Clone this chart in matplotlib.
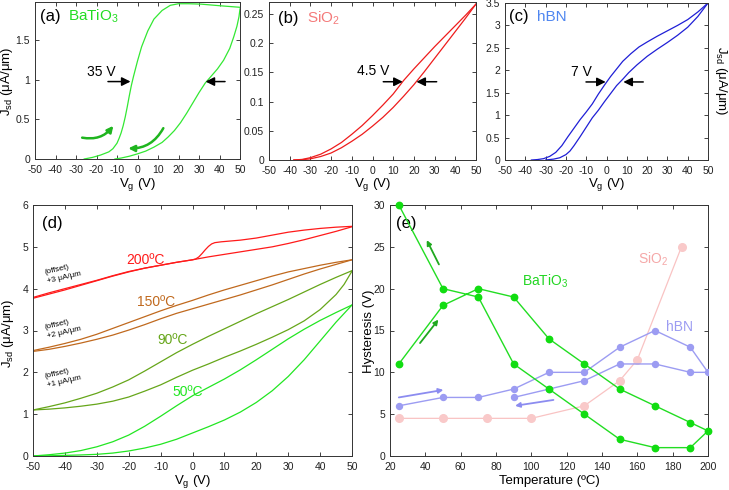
import matplotlib
matplotlib.use('Agg')
import matplotlib.pyplot as plt
import numpy as np

plt.rcParams['font.family'] = ['Liberation Sans', 'DejaVu Sans']
plt.rcParams['mathtext.fontset'] = 'custom'
plt.rcParams['mathtext.rm'] = 'Liberation Sans'
plt.rcParams['mathtext.it'] = 'Liberation Sans:italic'
plt.rcParams['mathtext.default'] = 'regular'
plt.rcParams['axes.unicode_minus'] = False

# ---------------- data ----------------
# (a) BaTiO3 transfer curve
a_up_v = [-26, -22, -18, -14, -12, -10, -9, -8, -7, -6, -5, -4, -3, -2, -1, 0, 2, 5, 8, 12, 16, 20, 25, 31, 40, 50]
a_up_j = [0.0, 0.02, 0.05, 0.09, 0.13, 0.20, 0.26, 0.33, 0.42, 0.53, 0.66, 0.80, 0.93, 1.04, 1.14, 1.24, 1.42, 1.62, 1.77, 1.88, 1.945, 1.965, 1.965, 1.96, 1.94, 1.92]
a_dn_v = [50, 49.5, 48.5, 47, 45, 42, 39, 36, 33, 30, 27, 24, 21, 18, 15, 12, 8, 4, 0, -4, -8, -11]
a_dn_j = [1.90, 1.80, 1.68, 1.55, 1.40, 1.25, 1.14, 1.05, 0.96, 0.84, 0.71, 0.58, 0.46, 0.36, 0.28, 0.21, 0.15, 0.10, 0.065, 0.035, 0.012, 0.0]

# (b) SiO2
b_v = [-38, -34, -30, -25, -20, -15, -10, -5, 0, 5, 10, 15, 20, 25, 30, 35, 40, 45, 50]
b_up_j = [0.0, 0.001, 0.004, 0.010, 0.019, 0.030, 0.044, 0.059, 0.076, 0.094, 0.113, 0.136, 0.156, 0.175, 0.194, 0.212, 0.230, 0.248, 0.267]
b_dn_j = [0.0, 0.0005, 0.002, 0.006, 0.012, 0.021, 0.032, 0.044, 0.058, 0.073, 0.090, 0.109, 0.129, 0.151, 0.174, 0.197, 0.220, 0.243, 0.267]

# (c) hBN
c_up_v = [-37, -34, -31, -28, -25, -22, -19, -16, -13, -10, -7, -4, -1, 2, 5, 8, 12, 16, 20, 25, 30, 35, 40, 45, 50]
c_up_j = [0.0, 0.01, 0.03, 0.08, 0.17, 0.32, 0.52, 0.71, 0.90, 1.07, 1.25, 1.47, 1.67, 1.86, 2.03, 2.20, 2.37, 2.52, 2.63, 2.76, 2.88, 3.00, 3.13, 3.30, 3.5]
c_dn_v = [-30, -26, -23, -20, -18, -16, -13, -10, -7, -4, -1, 2, 5, 8, 11, 15, 20, 25, 30, 35, 40, 45, 50]
c_dn_j = [0.0, 0.02, 0.05, 0.12, 0.20, 0.32, 0.52, 0.73, 0.94, 1.11, 1.30, 1.48, 1.66, 1.80, 1.95, 2.12, 2.31, 2.47, 2.62, 2.78, 2.96, 3.20, 3.5]

# (d) BaTiO3 at several temperatures (offset curves)
d_v = [-50, -45, -40, -35, -30, -25, -20, -15, -10, -5, 0, 5, 10, 15, 20, 25, 30, 35, 40, 45, 50]
d50_a = [0.0, 0.03, 0.07, 0.13, 0.22, 0.34, 0.50, 0.71, 0.95, 1.20, 1.44, 1.64, 1.84, 2.06, 2.30, 2.55, 2.80, 3.03, 3.24, 3.43, 3.61]
d50_b = [0.0, 0.005, 0.015, 0.025, 0.04, 0.07, 0.12, 0.19, 0.28, 0.40, 0.55, 0.70, 0.86, 1.05, 1.28, 1.56, 1.90, 2.30, 2.75, 3.20, 3.61]
d90_a = [1.10, 1.18, 1.27, 1.38, 1.50, 1.65, 1.82, 2.03, 2.25, 2.47, 2.67, 2.86, 3.04, 3.22, 3.40, 3.57, 3.74, 3.92, 4.10, 4.27, 4.43]
d90_b_v = [-50, -45, -40, -35, -30, -25, -20, -15, -10, -5, 0, 5, 10, 15, 20, 25, 30, 35, 40, 45, 47.5, 50]
d90_b = [1.10, 1.12, 1.15, 1.19, 1.24, 1.31, 1.41, 1.55, 1.70, 1.88, 2.05, 2.20, 2.36, 2.51, 2.67, 2.84, 3.02, 3.23, 3.50, 3.86, 4.10, 4.42]
d150_a = [2.52, 2.60, 2.69, 2.79, 2.91, 3.05, 3.19, 3.33, 3.47, 3.60, 3.72, 3.85, 3.97, 4.08, 4.19, 4.30, 4.40, 4.48, 4.56, 4.63, 4.69]
d150_b = [2.50, 2.55, 2.62, 2.70, 2.79, 2.89, 3.01, 3.14, 3.28, 3.41, 3.52, 3.63, 3.74, 3.85, 3.97, 4.09, 4.22, 4.35, 4.47, 4.58, 4.69]
d200_a = [3.77, 3.87, 3.97, 4.08, 4.19, 4.30, 4.40, 4.49, 4.56, 4.63, 4.69, 4.76, 4.82, 4.88, 4.94, 5.00, 5.08, 5.17, 5.27, 5.37, 5.48]
d200_b_v = [-50, -45, -40, -35, -30, -25, -20, -15, -10, -5, 0, 1, 2, 3, 4, 5, 6, 7, 9, 12, 15, 20, 25, 30, 35, 40, 45, 50]
d200_b = [3.79, 3.90, 4.00, 4.10, 4.20, 4.31, 4.41, 4.49, 4.56, 4.63, 4.69, 4.71, 4.76, 4.84, 4.93, 5.01, 5.07, 5.10, 5.12, 5.14, 5.16, 5.21, 5.28, 5.35, 5.40, 5.44, 5.47, 5.49]

# (e) hysteresis vs temperature
e_bto_T = [25, 50, 70, 90, 110, 130, 150, 170, 190, 200, 190, 170, 150, 130, 110, 90, 70, 50, 25]
e_bto_H = [11, 18, 20, 19, 14, 11, 8, 6, 4, 3, 1, 1, 2, 5, 8, 11, 19, 20, 30]
e_hbn_T = [25, 50, 70, 90, 110, 130, 150, 170, 190, 200, 190, 170, 150, 130, 110, 90]
e_hbn_H = [6, 7, 7, 8, 10, 10, 13, 15, 13, 10, 10, 11, 11, 9, 8, 7]
e_sio_T = [25, 50, 75, 100, 130, 150, 160, 185]
e_sio_H = [4.5, 4.5, 4.5, 4.5, 6, 9, 11.5, 25]

# ---------------- figure ----------------
W, H = 729, 490
fig = plt.figure(figsize=(W / 100, H / 100), dpi=100)


def ax_at(l, t, r, b):
    return fig.add_axes([l / W, 1 - b / H, (r - l) / W, (b - t) / H])


def style(ax):
    ax.tick_params(direction='in', length=3, width=0.6, top=True, right=True,
                   labelsize=7.5, colors='#222222')
    ax.tick_params(axis='x', pad=4.5)
    ax.tick_params(axis='y', pad=3.5)
    for s in ax.spines.values():
        s.set_linewidth(0.7)
        s.set_color('#333333')


def ftext(x, y, s, **kw):
    fig.text(x / W, 1 - y / H, s, ha='center', va='center', **kw)


def black_arrow(ax, tail, tip):
    ax.annotate('', xy=tip, xytext=tail,
                arrowprops=dict(arrowstyle='-|>', color='k', lw=1.1,
                                mutation_scale=13, shrinkA=0, shrinkB=0))


GA = '#33e833'
xt = np.arange(-50, 51, 10)

# (a)
ax = ax_at(35, 2, 240, 159)
ax.plot(a_up_v, a_up_j, color=GA, lw=0.9)
ax.plot(a_dn_v, a_dn_j, color=GA, lw=0.9)
ax.set_xlim(-50, 50)
ax.set_ylim(0, 1.987)
ax.set_xticks(xt)
ax.set_yticks([0, 0.5, 1, 1.5])
ax.set_yticklabels(['0', '0.5', '1', '1.5'])
style(ax)
ax.text(-47.6, 1.80, '(a)', fontsize=12, va='center', ha='left')
ax.text(-33.8, 1.80, 'BaTiO$_3$', fontsize=11, va='center', ha='left', color='#22dd22')
ax.text(-17.5, 1.105, '35 V', fontsize=10, va='center', ha='center')
black_arrow(ax, (-14.4, 0.98), (-3.4, 0.98))
black_arrow(ax, (42.7, 0.98), (33.2, 0.98))
for tail, tip, rad in [((-27.0, 0.27), (-11.8, 0.42), 0.3), ((12.6, 0.39), (-4.5, 0.135), -0.3)]:
    ax.annotate('', xy=tip, xytext=tail,
                arrowprops=dict(arrowstyle='-|>', color='#1fb51f', lw=1.8,
                                mutation_scale=9, shrinkA=0, shrinkB=0,
                                connectionstyle='arc3,rad=%g' % rad))

# (b)
ax = ax_at(269, 2, 476, 160)
ax.plot(b_v, b_up_j, color='#ee1c1c', lw=0.9)
ax.plot(b_v, b_dn_j, color='#ee1c1c', lw=0.9)
ax.set_xlim(-50, 50)
ax.set_ylim(0, 0.2705)
ax.set_xticks(xt)
ax.set_yticks([0, 0.05, 0.1, 0.15, 0.2, 0.25])
ax.set_yticklabels(['0', '0.05', '0.1', '0.15', '0.2', '0.25'])
style(ax)
ax.text(-45.5, 0.2426, '(b)', fontsize=12, va='center', ha='left')
ax.text(-31.8, 0.2426, 'SiO$_2$', fontsize=11, va='center', ha='left', color='#f47a7a')
ax.text(0.4, 0.152, '4.5 V', fontsize=10, va='center', ha='center')
black_arrow(ax, (5.2, 0.134), (14.6, 0.134))
black_arrow(ax, (31.0, 0.134), (21.2, 0.134))

# (c)
ax = ax_at(505, 3, 708, 160)
ax.plot(c_up_v, c_up_j, color='#1f1fd6', lw=0.9)
ax.plot(c_dn_v, c_dn_j, color='#1f1fd6', lw=0.9)
ax.set_xlim(-50, 50)
ax.set_ylim(0, 3.5)
ax.set_xticks(xt)
ax.set_yticks([0, 0.5, 1, 1.5, 2, 2.5, 3, 3.5])
ax.set_yticklabels(['0', '0.5', '1', '1.5', '2', '2.5', '3', '3.5'])
style(ax)
ax.text(-47.9, 3.19, '(c)', fontsize=12, va='center', ha='left')
ax.text(-34.4, 3.19, 'hBN', fontsize=11, va='center', ha='left', color='#4f86f0')
ax.text(-12.2, 1.97, '7 V', fontsize=10, va='center', ha='center')
black_arrow(ax, (-10.1, 1.74), (-0.4, 1.74))
black_arrow(ax, (18.1, 1.74), (8.3, 1.74))

# (d)
ax = ax_at(33, 205, 352, 456)
ax.plot(d_v, d200_a, color='#ff1a1a', lw=0.9)
ax.plot(d200_b_v, d200_b, color='#ff1a1a', lw=0.9)
ax.plot(d_v, d150_a, color='#c0691e', lw=0.9)
ax.plot(d_v, d150_b, color='#c0691e', lw=0.9)
ax.plot(d_v, d90_a, color='#66a61a', lw=0.9)
ax.plot(d90_b_v, d90_b, color='#66a61a', lw=0.9)
ax.plot(d_v, d50_a, color='#22e622', lw=0.9)
ax.plot(d_v, d50_b, color='#22e622', lw=0.9)
ax.set_xlim(-50, 50)
ax.set_ylim(0, 6)
ax.set_xticks(xt)
ax.set_yticks(range(0, 7))
style(ax)
ax.text(-44, 5.56, '(d)', fontsize=12, va='center', ha='center')
ax.text(-14.6, 4.69, '200ºC', fontsize=10, va='center', ha='center', color='#ff1a1a')
ax.text(-11.3, 3.69, '150ºC', fontsize=10, va='center', ha='center', color='#c0691e')
ax.text(-6.4, 2.78, '90ºC', fontsize=10, va='center', ha='center', color='#66a61a')
ax.text(-1.4, 1.54, '50ºC', fontsize=10, va='center', ha='center', color='#22e622')
for yy, s in [(4.28, '+3'), (2.97, '+2'), (1.79, '+1')]:
    ax.text(-45.9, yy, '(offset)\n%s μA/μm' % s, fontsize=5.8, ha='left', va='center',
            rotation=13, rotation_mode='anchor', linespacing=1.5)

# (e)
ax = ax_at(390, 205, 708, 456)
ax.plot(e_sio_T, e_sio_H, color='#f9c3c3', lw=0.9, marker='o', ms=5.5,
        mfc='#f9c9c9', mec='#f9c9c9', zorder=2)
ax.plot(e_hbn_T, e_hbn_H, color='#9c9cf2', lw=1.0, marker='o', ms=4.3,
        mfc='#9c9cf2', mec='#9c9cf2', zorder=3)
ax.plot(e_bto_T, e_bto_H, color='#22dd22', lw=1.0, marker='o', ms=4.6,
        mfc='#11dd11', mec='#11dd11', zorder=4, clip_on=False)
ax.set_xlim(20, 200)
ax.set_ylim(0, 30)
ax.set_xticks(range(20, 201, 20))
ax.set_yticks(range(0, 31, 5))
style(ax)
ax.text(29, 27.8, '(e)', fontsize=12, va='center', ha='center')
ax.text(107.7, 20.9, 'BaTiO$_3$', fontsize=10, va='center', ha='center', color='#22d622')
ax.text(169, 23.5, 'SiO$_2$', fontsize=10, va='center', ha='center', color='#f5a8a8')
ax.text(184, 15.4, 'hBN', fontsize=10, va='center', ha='center', color='#9c9cf2')
for tail, tip, col in [((37, 13.5), (47.4, 16.3), '#1fa81f'),
                       ((47.7, 22.9), (40.8, 25.8), '#1fa81f'),
                       ((25, 7.0), (50.2, 7.9), '#8c8cf0'),
                       ((112.5, 6.7), (90.8, 6.0), '#8c8cf0')]:
    ax.annotate('', xy=tip, xytext=tail,
                arrowprops=dict(arrowstyle='-|>', color=col, lw=1.3,
                                mutation_scale=7, shrinkA=0, shrinkB=0))

# axis labels
jl = 'J$_{sd}$ (μA/μm)'
ftext(7, 81, jl, fontsize=9.5, rotation=90)
ftext(721, 81, jl, fontsize=9.5, rotation=270)
ftext(8.5, 333, jl, fontsize=9.5, rotation=90)
ftext(369, 331, 'Hysteresis (V)', fontsize=9.5, rotation=90)
for xc, yc in [(137.5, 185), (372.5, 185), (606.5, 185), (192.5, 481.5)]:
    ftext(xc, yc, 'V$_g$ (V)', fontsize=9.5)
ftext(549, 480.5, 'Temperature (ºC)', fontsize=9.5)

fig.savefig('out.png', dpi=100)
